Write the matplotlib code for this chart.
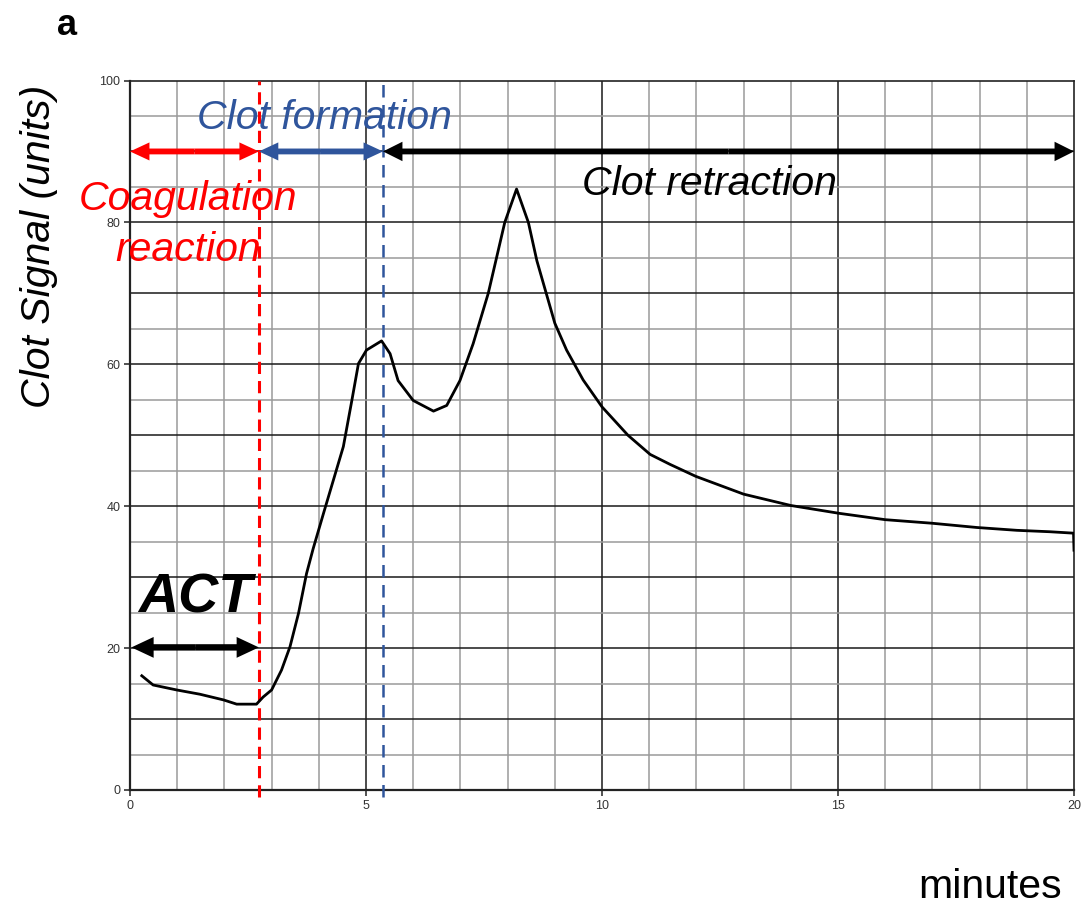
import numpy as np
from matplotlib import pyplot as plt

plt.rcParams['font.family'] = ['Liberation Sans', 'DejaVu Sans']

#----------------- data -----------------

minutes = [0.25, 0.49, 0.99, 1.48, 1.98, 2.26, 2.68, 2.82, 3.0, 3.21, 3.39,
           3.57, 3.74, 3.88, 4.10, 4.31, 4.52, 4.70, 4.84, 5.01, 5.33, 5.51,
           5.68, 6.0, 6.43, 6.71, 6.99, 7.27, 7.59, 7.94, 8.19, 8.44, 8.62,
           9.0, 9.25, 9.6, 10.0, 10.55, 11.02, 11.44, 11.99, 13.0, 14.0,
           15.02, 16.0, 16.99, 17.94, 18.79, 19.49, 19.99, 20.0]
signal = [16.1, 14.8, 14.1, 13.5, 12.7, 12.1, 12.1, 13.1, 14.1, 16.9, 20.2,
          24.9, 30.5, 34.0, 39.0, 43.7, 48.4, 54.9, 60.1, 62.0, 63.3, 61.5,
          57.7, 54.9, 53.4, 54.2, 57.7, 62.9, 70.0, 80.0, 84.7, 80.0, 74.6,
          65.8, 62.0, 57.8, 54.0, 50.0, 47.3, 45.9, 44.2, 41.7, 40.1,
          39.0, 38.1, 37.6, 37.0, 36.6, 36.4, 36.2, 33.8]

act_end = 2.73        # end of coagulation reaction (red line)
formation_end = 5.36  # end of clot formation (blue line)
x_max = 20
y_max = 100
x_ticks = [0, 5, 10, 15, 20]
y_ticks = [0, 20, 40, 60, 80, 100]

RED = '#ff0000'
BLUE = '#2f559c'

#----------------------- figure ----------------------------

fig = plt.figure(figsize=(10.83, 9.08), dpi=100)
ax = fig.add_axes([130/1083, 1 - 790/908, 944/1083, 709.5/908])
ax.set_xlim(0, x_max)
ax.set_ylim(0, y_max)

# grid : fine grey, darker every 5 min / 10 units
for x in np.arange(1, x_max):
    dark = (x % 5 == 0)
    ax.axvline(x, color='#1a1a1a' if dark else '#9a9a9a', lw=1.1, zorder=1)
for y in np.arange(5, y_max, 5):
    dark = (y % 10 == 0)
    ax.axhline(y, color='#1a1a1a' if dark else '#9a9a9a', lw=1.1, zorder=1)

for s in ax.spines.values():
    s.set_color('#222222')
    s.set_linewidth(1.2)
ax.spines['left'].set_linewidth(1.6)
ax.spines['bottom'].set_linewidth(1.6)

ax.set_xticks(x_ticks)
ax.set_yticks(y_ticks)
ax.tick_params(length=4, width=1.1, color='#222222', labelsize=9,
               labelcolor='#333333', pad=3)

# trace
ax.plot(minutes, signal, color='black', lw=2.0, zorder=4)

# phase boundaries
ax.plot([act_end, act_end], [-1, y_max], color=RED, lw=2.2,
        dashes=(4, 2.3), clip_on=False, zorder=3)
ax.plot([formation_end, formation_end], [-1, y_max], color=BLUE, lw=1.8,
        dashes=(5, 3), clip_on=False, zorder=3)

def double_arrow(x0, x1, y, color, hl=14.0, hw=13.0, tw=4.2):
    # two filled "simple" arrows from the middle, so the heads stay sharp
    xm = (x0 + x1) / 2
    style = 'simple,head_length=%g,head_width=%g,tail_width=%g' % (hl, hw, tw)
    for end in (x0, x1):
        ax.annotate('', xy=(end, y), xytext=(xm, y),
                    arrowprops=dict(arrowstyle=style, color=color, lw=0,
                                    mutation_scale=1, shrinkA=0, shrinkB=0),
                    annotation_clip=False, zorder=5)

double_arrow(0, act_end, 90, RED)
double_arrow(act_end, formation_end, 90, BLUE)
double_arrow(formation_end, x_max, 90, 'black', hl=14.0, hw=14.0)
double_arrow(0.03, act_end, 20.1, 'black', hl=16.0, hw=15.0, tw=4.6)

# labels of the phases
ax.text(4.13, 93.2, 'Clot formation', color=BLUE, style='italic',
        fontsize=29.5, ha='center', va='baseline', zorder=6)
ax.text(1.23, 81.7, 'Coagulation', color=RED, style='italic',
        fontsize=29.5, ha='center', va='baseline', zorder=6)
ax.text(1.23, 74.6, 'reaction', color=RED, style='italic',
        fontsize=29.5, ha='center', va='baseline', zorder=6)
ax.text(12.27, 83.8, 'Clot retraction', color='black', style='italic',
        fontsize=29.5, ha='center', va='baseline', zorder=6)
ax.text(1.39, 25.0, 'ACT', color='black', style='italic', fontweight='bold',
        fontsize=40, ha='center', va='baseline', zorder=6)

fig.text(39/1083, 1 - 246/908, 'Clot Signal (units)', rotation=90,
         style='italic', fontsize=29.5, ha='center', va='center')
fig.text(990/1083, 1 - 898/908, 'minutes', fontsize=29.5,
         ha='center', va='baseline')
fig.text(67/1083, 1 - 35/908, 'a', fontsize=26, fontweight='bold',
         ha='center', va='baseline')

fig.savefig('out.png', dpi=100)
